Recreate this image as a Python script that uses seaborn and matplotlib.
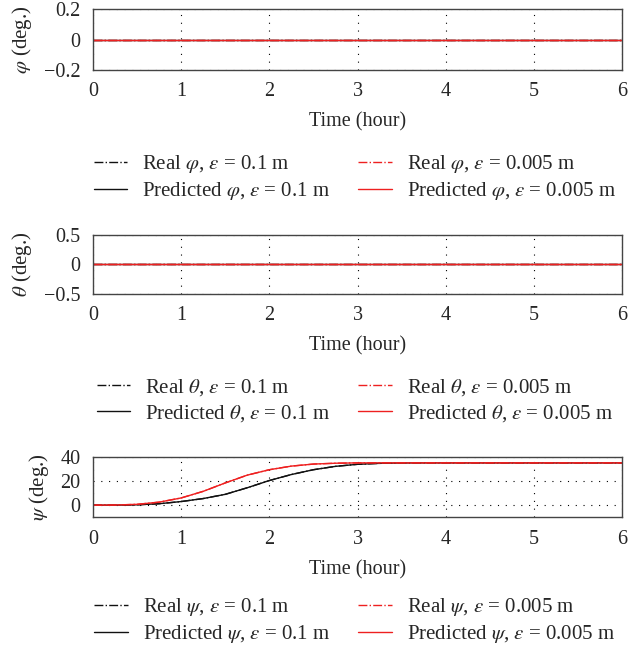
"""
Attitude angles: real vs predicted, for two tolerances
"""

import matplotlib
matplotlib.use("Agg")
import matplotlib.pyplot as plt
import seaborn as sns

# time axis (hours) and psi curves
time_h = [0, 0.25, 0.5, 0.75, 1.0, 1.25, 1.5, 1.75, 2.0, 2.25, 2.5, 2.75,
          3.0, 3.25, 3.5, 3.75, 4.0, 4.5, 5.0, 5.5, 6.0]
psi_pred_01 = [0, 0.0, 0.3, 1.2, 3.0, 5.5, 9.0, 14.5, 20.5, 25.5, 29.5, 32.3,
               34.0, 34.8, 35.1, 35.2, 35.2, 35.2, 35.2, 35.2, 35.2]
psi_real_01 = [0, 0.0, 0.3, 1.2, 3.0, 5.5, 9.0, 14.5, 20.5, 25.5, 29.5, 32.3,
               34.0, 34.8, 35.1, 35.2, 35.2, 35.2, 35.2, 35.2, 35.2]
psi_pred_0005 = [0, 0.1, 0.7, 2.5, 6.0, 11.5, 18.5, 25.0, 29.5, 32.5, 34.2, 34.9,
                 35.2, 35.2, 35.2, 35.2, 35.2, 35.2, 35.2, 35.2, 35.2]
psi_real_0005 = [0, 0.1, 0.7, 2.5, 6.0, 11.5, 18.5, 25.0, 29.5, 32.5, 34.2, 34.9,
                 35.2, 35.2, 35.2, 35.2, 35.2, 35.2, 35.2, 35.2, 35.2]

# phi and theta stay at zero over the whole run
flat_time = [0, 6]
phi_real_01 = [0, 0]
phi_pred_01 = [0, 0]
phi_real_0005 = [0, 0]
phi_pred_0005 = [0, 0]
theta_real_01 = [0, 0]
theta_pred_01 = [0, 0]
theta_real_0005 = [0, 0]
theta_pred_0005 = [0, 0]

x_ticks = [0, 1, 2, 3, 4, 5, 6]

sns.set_theme(style="ticks")
plt.rcParams["font.family"] = ["Liberation Serif", "DejaVu Serif"]
plt.rcParams["mathtext.fontset"] = "stix"
plt.rcParams["axes.unicode_minus"] = True

BLACK = "#111111"
RED = "#ee2020"
FS = 14.5
LFS = 15

fig = plt.figure(figsize=(6.39, 6.53), dpi=100)

panels = [
    dict(rect=[0.1455, 0.893, 0.828, 0.093], sym=r"\varphi", leg_y=0.728,
         series=(flat_time, phi_real_01, phi_pred_01, phi_real_0005, phi_pred_0005),
         ylim=(-0.2, 0.2), yticks=[-0.2, 0, 0.2], yfmt=["\u22120.2", "0", "0.2"]),
    dict(rect=[0.1455, 0.550, 0.828, 0.090], sym=r"\theta", leg_y=0.3867,
         series=(flat_time, theta_real_01, theta_pred_01, theta_real_0005, theta_pred_0005),
         ylim=(-0.5, 0.5), yticks=[-0.5, 0, 0.5], yfmt=["\u22120.5", "0", "0.5"]),
    dict(rect=[0.1455, 0.208, 0.828, 0.092], sym=r"\psi", leg_y=0.0498,
         series=(time_h, psi_real_01, psi_pred_01, psi_real_0005, psi_pred_0005),
         ylim=(-10, 40), yticks=[0, 20, 40], yfmt=["0", "20", "40"]),
]

for p in panels:
    ax = fig.add_axes(p["rect"])
    t, r01, p01, r0005, p0005 = p["series"]
    s = p["sym"]
    sns.lineplot(x=t, y=r01, ax=ax, color=BLACK, lw=1.0, linestyle="-.",
                 label=rf"Real ${s}$, $\varepsilon$ = 0.1 m")
    sns.lineplot(x=t, y=p01, ax=ax, color=BLACK, lw=1.0, linestyle="-",
                 label=rf"Predicted ${s}$, $\varepsilon$ = 0.1 m")
    sns.lineplot(x=t, y=r0005, ax=ax, color=RED, lw=1.0, linestyle="-.",
                 label=rf"Real ${s}$, $\varepsilon$ = 0.005 m")
    sns.lineplot(x=t, y=p0005, ax=ax, color=RED, lw=1.0, linestyle="-",
                 label=rf"Predicted ${s}$, $\varepsilon$ = 0.005 m")

    ax.set_xlim(0, 6)
    ax.set_ylim(*p["ylim"])
    ax.set_xticks(x_ticks)
    ax.set_xticklabels([str(v) for v in x_ticks], fontsize=FS)
    ax.set_yticks(p["yticks"])
    ax.set_yticklabels(p["yfmt"], fontsize=FS)
    ax.tick_params(axis="x", length=0, pad=9)
    ax.tick_params(axis="y", length=0, pad=9)
    ax.grid(True, color="black", linestyle=(0, (1, 6)), linewidth=0.8)
    for sp in ax.spines.values():
        sp.set_color("#444444")
        sp.set_linewidth(1.0)
    ax.set_xlabel("Time (hour)", fontsize=FS, labelpad=8)
    ax.set_ylabel(rf"${s}$ (deg.)", fontsize=15, labelpad=7)

    ax.legend(loc="center", bbox_to_anchor=(0.555, p["leg_y"]),
              bbox_transform=fig.transFigure, ncol=2, frameon=False,
              fontsize=LFS, handlelength=1.6, handletextpad=0.72,
              columnspacing=1.35, labelspacing=0.25)

fig.savefig("out.png", dpi=100)
plt.close(fig)
print("Saved out.png")
